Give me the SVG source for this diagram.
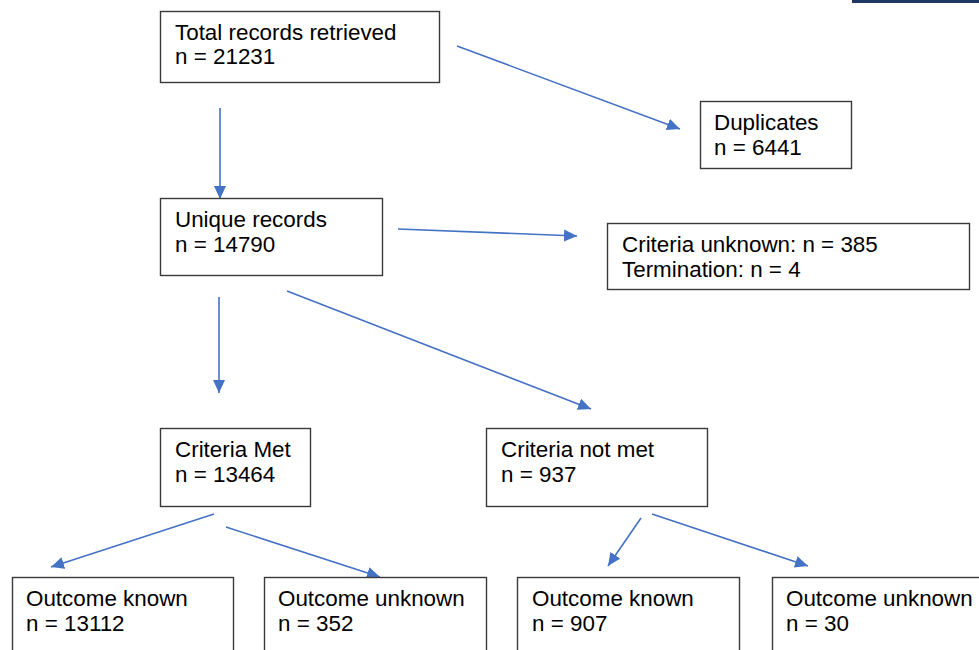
<svg xmlns="http://www.w3.org/2000/svg" width="979" height="650" viewBox="0 0 979 650">
<style>
.box{fill:#fff;stroke:#3a3a3a;stroke-width:1.4}
.t{font-family:"Liberation Sans",Arial,sans-serif;font-size:22.4px;fill:#000}
.c{stroke:#4472C4;stroke-width:1.6;fill:none;marker-end:url(#ah)}
</style>
<defs>
<marker id="ah" markerUnits="userSpaceOnUse" markerWidth="14" markerHeight="12" viewBox="0 0 14 12" refX="13" refY="6" orient="auto">
<path d="M0,0 L13,6 L0,12 Z" fill="#4472C4"/>
</marker>
</defs>
<rect width="979" height="650" fill="#fff"/>
<rect x="852" y="0" width="127" height="3" fill="#1F3864"/>
<g id="connectors">
<line class="c" x1="220" y1="108" x2="220" y2="199"/>
<line class="c" x1="457" y1="46" x2="680" y2="129"/>
<line class="c" x1="398" y1="229" x2="577" y2="236"/>
<line class="c" x1="219" y1="297" x2="219" y2="393"/>
<line class="c" x1="287" y1="291" x2="591" y2="409"/>
<line class="c" x1="214" y1="514" x2="51" y2="567"/>
<line class="c" x1="226" y1="527" x2="380" y2="577"/>
<line class="c" x1="641" y1="518" x2="608" y2="566"/>
<line class="c" x1="652" y1="514" x2="808" y2="566"/>
</g>
<g id="total">
<rect class="box" x="160.5" y="11.5" width="279" height="71"/>
<text class="t" x="175" y="40">Total records retrieved</text>
<text class="t" x="175" y="64">n = 21231</text>
</g>
<g id="duplicates">
<rect class="box" x="700.5" y="101.5" width="151" height="67"/>
<text class="t" x="714" y="130">Duplicates</text>
<text class="t" x="714" y="155">n = 6441</text>
</g>
<g id="unique">
<rect class="box" x="160.5" y="198.5" width="222" height="77"/>
<text class="t" x="175" y="227">Unique records</text>
<text class="t" x="175" y="252">n = 14790</text>
</g>
<g id="excluded">
<rect class="box" x="607.5" y="223.5" width="362" height="66"/>
<text class="t" x="622" y="252">Criteria unknown: n = 385</text>
<text class="t" x="622" y="277">Termination: n = 4</text>
</g>
<g id="met">
<rect class="box" x="160.5" y="428.5" width="150" height="78"/>
<text class="t" x="175" y="457">Criteria Met</text>
<text class="t" x="175" y="482">n = 13464</text>
</g>
<g id="notmet">
<rect class="box" x="486.5" y="428.5" width="221" height="78"/>
<text class="t" x="501" y="457">Criteria not met</text>
<text class="t" x="501" y="482">n = 937</text>
</g>
<g id="met-known">
<rect class="box" x="12.5" y="577.5" width="221" height="90"/>
<text class="t" x="26" y="606">Outcome known</text>
<text class="t" x="26" y="631">n = 13112</text>
</g>
<g id="met-unknown">
<rect class="box" x="264.5" y="577.5" width="222" height="90"/>
<text class="t" x="278" y="606">Outcome unknown</text>
<text class="t" x="278" y="631">n = 352</text>
</g>
<g id="notmet-known">
<rect class="box" x="517.5" y="577.5" width="222" height="90"/>
<text class="t" x="532" y="606">Outcome known</text>
<text class="t" x="532" y="631">n = 907</text>
</g>
<g id="notmet-unknown">
<rect class="box" x="772.5" y="577.5" width="230" height="90"/>
<text class="t" x="786" y="606">Outcome unknown</text>
<text class="t" x="786" y="631">n = 30</text>
</g>
</svg>
